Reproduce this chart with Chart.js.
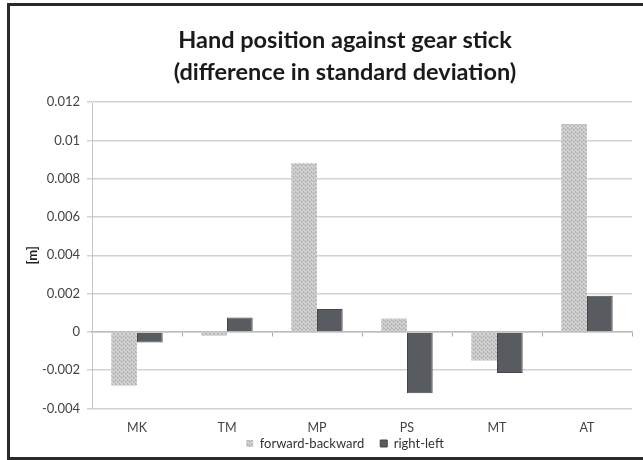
<!DOCTYPE html>
<html>
<head>
<meta charset="utf-8">
<script src="https://cdn.jsdelivr.net/npm/chart.js@4.4.1/dist/chart.umd.min.js"></script>
<style>
  html, body { margin: 0; padding: 0; background: #fff; }
  #wrap { position: relative; width: 643px; height: 460px; overflow: hidden; }
  #frame { position: absolute; left: 7px; top: 3px; width: 700px; height: 451px; border: 3px solid #2a2a2a; box-sizing: content-box; }
  canvas { position: absolute; left: 0; top: 0; }
</style>
</head>
<body>
<div id="wrap">
  <div id="frame"></div>
  <canvas id="c" width="680" height="460"></canvas>
</div>
<script>
const categories = ["MK", "TM", "MP", "PS", "MT", "AT"];
const forwardBackward = [-0.0028, -0.0002, 0.0088, 0.0007, -0.0015, 0.01085];
const rightLeft = [-0.00055, 0.00075, 0.0012, -0.0032, -0.00215, 0.00188];
const yTickLabels = ["-0.004", "-0.002", "0", "0.002", "0.004", "0.006", "0.008", "0.01", "0.012"];
const seriesNames = ["forward-backward", "right-left"];
const titleLines = ["Hand position against gear stick", "(difference in standard deviation)"];
const yAxisTitle = "[m]";

const FONT = "Lato, 'Open Sans', sans-serif";
const Y_MIN = parseFloat(yTickLabels[0]);
const Y_MAX = parseFloat(yTickLabels[yTickLabels.length - 1]);

function makePattern() {
  const p = document.createElement('canvas');
  p.width = 4; p.height = 4;
  const g = p.getContext('2d');
  g.fillStyle = '#d2d2d2';
  g.fillRect(0, 0, 4, 4);
  g.fillStyle = '#b4b4b4';
  const dots = [[0,0],[2,1],[1,2],[3,3],[3,0],[1,1]];
  dots.forEach(([x, y]) => g.fillRect(x, y, 1, 1));
  return document.getElementById('c').getContext('2d').createPattern(p, 'repeat');
}
const pattern = makePattern();

new Chart(document.getElementById('c'), {
  type: 'bar',
  data: {
    labels: categories,
    datasets: [
      { label: seriesNames[0], data: forwardBackward, backgroundColor: pattern, borderWidth: 0 },
      { label: seriesNames[1], data: rightLeft, backgroundColor: '#585b60', borderColor: '#44464a', borderWidth: 1 }
    ]
  },
  options: {
    responsive: false,
    animation: false,
    devicePixelRatio: 1,
    layout: { padding: { left: 10, right: 0, top: 5, bottom: 0 } },
    datasets: { bar: { categoryPercentage: 0.571, barPercentage: 1.0 } },
    plugins: {
      title: {
        display: true,
        text: titleLines,
        color: '#1a1a1a',
        font: { family: FONT, size: 23.5, weight: 'bold', lineHeight: 1.4 },
        padding: { top: 18.5, bottom: 12.7 }
      },
      legend: {
        position: 'bottom',
        labels: {
          color: '#333',
          font: { family: FONT, size: 13 },
          boxWidth: 7, boxHeight: 7,
          padding: 16
        }
      },
      tooltip: { enabled: false }
    },
    scales: {
      x: {
        type: 'category',
        position: { y: Y_MIN },
        offset: true,
        grid: { display: false, drawTicks: false },
        border: { display: false },
        ticks: { color: '#444', font: { family: FONT, size: 12.5 }, padding: 12 }
      },
      x2: {
        type: 'category',
        labels: categories,
        position: { y: 0 },
        offset: true,
        grid: { display: true, drawOnChartArea: false, offset: true, color: '#a8a8a8', tickLength: 4, lineWidth: 1 },
        border: { display: true, color: '#bdbdbd', width: 1.5 },
        ticks: { display: false }
      },
      xPad: {
        type: 'category',
        labels: categories,
        position: 'bottom',
        grid: { display: false, drawTicks: false },
        border: { display: false },
        ticks: { display: false },
        afterFit: (s) => { s.height = 12.5; }
      },
      y: {
        min: Y_MIN, max: Y_MAX,
        afterBuildTicks: (s) => { s.ticks = yTickLabels.map(v => ({ value: parseFloat(v) })); },
        ticks: {
          color: '#444',
          font: { family: FONT, size: 13 },
          padding: 7,
          callback: (v) => yTickLabels.find(t => parseFloat(t) === parseFloat(v.toFixed(3))) ?? ''
        },
        grid: { color: '#d2d2d2', lineWidth: 1.5, tickLength: 5 },
        border: { display: true, color: '#c4c4c4', width: 1 },
        title: { display: true, text: yAxisTitle, color: '#222', font: { family: FONT, size: 13, weight: 'bold' }, padding: { top: 15, bottom: 0 } },
        afterFit: (s) => { s.width = 82; }
      },
      yPad: {
        type: 'linear',
        position: 'right',
        display: true,
        grid: { drawOnChartArea: false, drawTicks: false },
        border: { display: false },
        ticks: { display: false },
        afterFit: (s) => { s.width = 48; }
      }
    }
  }
});
</script>
</body>
</html>
